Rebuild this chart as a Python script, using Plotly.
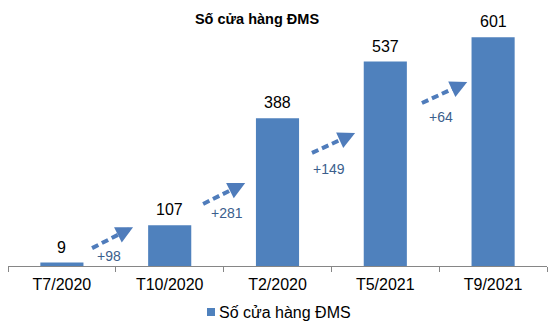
import plotly.graph_objects as go

# ---- data ----
categories = ["T7/2020", "T10/2020", "T2/2020", "T5/2021", "T9/2021"]
stores = [9, 107, 388, 537, 601]
series_name = "Số cửa hàng ĐMS"
title_text = "Số cửa hàng ĐMS"

# ---- styling / decoration geometry ----
BAR = "#4F81BD"
ARROW = "#4F7CBB"
LABEL_BLUE = "#3B5E8C"
FONT = "Arial, Liberation Sans, sans-serif"
W, H = 555, 324
ML, MR, MT, MB = 8, 8, 20, 58
YMAX = 646

# arrow geometry: (x0, y0, x1, y1) in category-index / value units
arrows = [
    (0.28, 47, 0.66, 102),
    (1.31, 163, 1.70, 218),
    (2.32, 297, 2.72, 349),
    (3.34, 428, 3.76, 483),
]
# growth label positions (category index, value)
growth_pos = [(0.44, 26), (1.53, 139), (2.48, 255), (3.52, 391)]

growth = ["+%d" % (stores[i + 1] - stores[i]) for i in range(len(stores) - 1)]

plot_h = H - MT - MB
plot_w = W - ML - MR


def px_x(p):
    return (p - ML) / plot_w


def px_y(p):
    return (H - MB - p) / plot_h


fig = go.Figure()
fig.add_trace(go.Bar(
    x=categories, y=stores, name=series_name,
    marker=dict(color=BAR, line=dict(width=0)),
    showlegend=False,
))

annotations = []
# value labels above bars
for c, v in zip(categories, stores):
    annotations.append(dict(
        x=c, y=v, xref="x", yref="y", text=str(v), showarrow=False,
        yanchor="bottom", yshift=5, font=dict(family=FONT, size=16, color="#000000"),
    ))
# growth labels
for (gx, gy), g in zip(growth_pos, growth):
    annotations.append(dict(
        x=gx, y=gy, xref="x", yref="y", text=g, showarrow=False,
        font=dict(family=FONT, size=14, color=LABEL_BLUE),
    ))

shapes = []
for x0, y0, x1, y1 in arrows:
    t = 0.72
    mx, my = x0 + (x1 - x0) * t, y0 + (y1 - y0) * t
    shapes.append(dict(
        type="line", xref="x", yref="y", x0=x0, y0=y0, x1=mx, y1=my,
        line=dict(color=ARROW, width=4, dash="7px,4px"),
    ))
    annotations.append(dict(
        x=x1, y=y1, ax=mx, ay=my, xref="x", yref="y", axref="x", ayref="y",
        text="", showarrow=True, arrowhead=2, arrowsize=0.85, arrowwidth=4,
        arrowcolor=ARROW, standoff=0, startstandoff=0,
    ))

# manual legend (swatch + text)
shapes.append(dict(
    type="rect", xref="paper", yref="paper",
    x0=px_x(207), x1=px_x(215), y0=px_y(316), y1=px_y(308),
    fillcolor=BAR, line=dict(width=0),
))
annotations.append(dict(
    x=px_x(217), y=px_y(312), xref="paper", yref="paper", text=series_name,
    showarrow=False, xanchor="left", yanchor="middle",
    font=dict(family=FONT, size=16, color="#000000"),
))

fig.update_layout(
    width=W, height=H,
    margin=dict(l=ML, r=MR, t=MT, b=MB, pad=0),
    paper_bgcolor="white", plot_bgcolor="white",
    bargap=0.6,
    showlegend=False,
    font=dict(family=FONT, size=16, color="#000000"),
    title=dict(
        text="<b>" + title_text + "</b>", x=0.462, xref="paper", xanchor="center",
        y=1 - 19 / H, yref="container", yanchor="middle",
        font=dict(family=FONT, size=14.5, color="#000000"),
    ),
    xaxis=dict(
        type="category", tickson="boundaries", ticks="outside", ticklen=5,
        tickcolor="#868686", showline=True, linecolor="#868686", linewidth=1,
        showgrid=False, tickfont=dict(family=FONT, size=16, color="#000000"),
        ticklabelstandoff=4,
        range=[-0.5, len(categories) - 0.5],
    ),
    yaxis=dict(range=[0, YMAX], visible=False, showgrid=False, zeroline=False),
    annotations=annotations,
    shapes=shapes,
)

fig.write_html("out.html")
